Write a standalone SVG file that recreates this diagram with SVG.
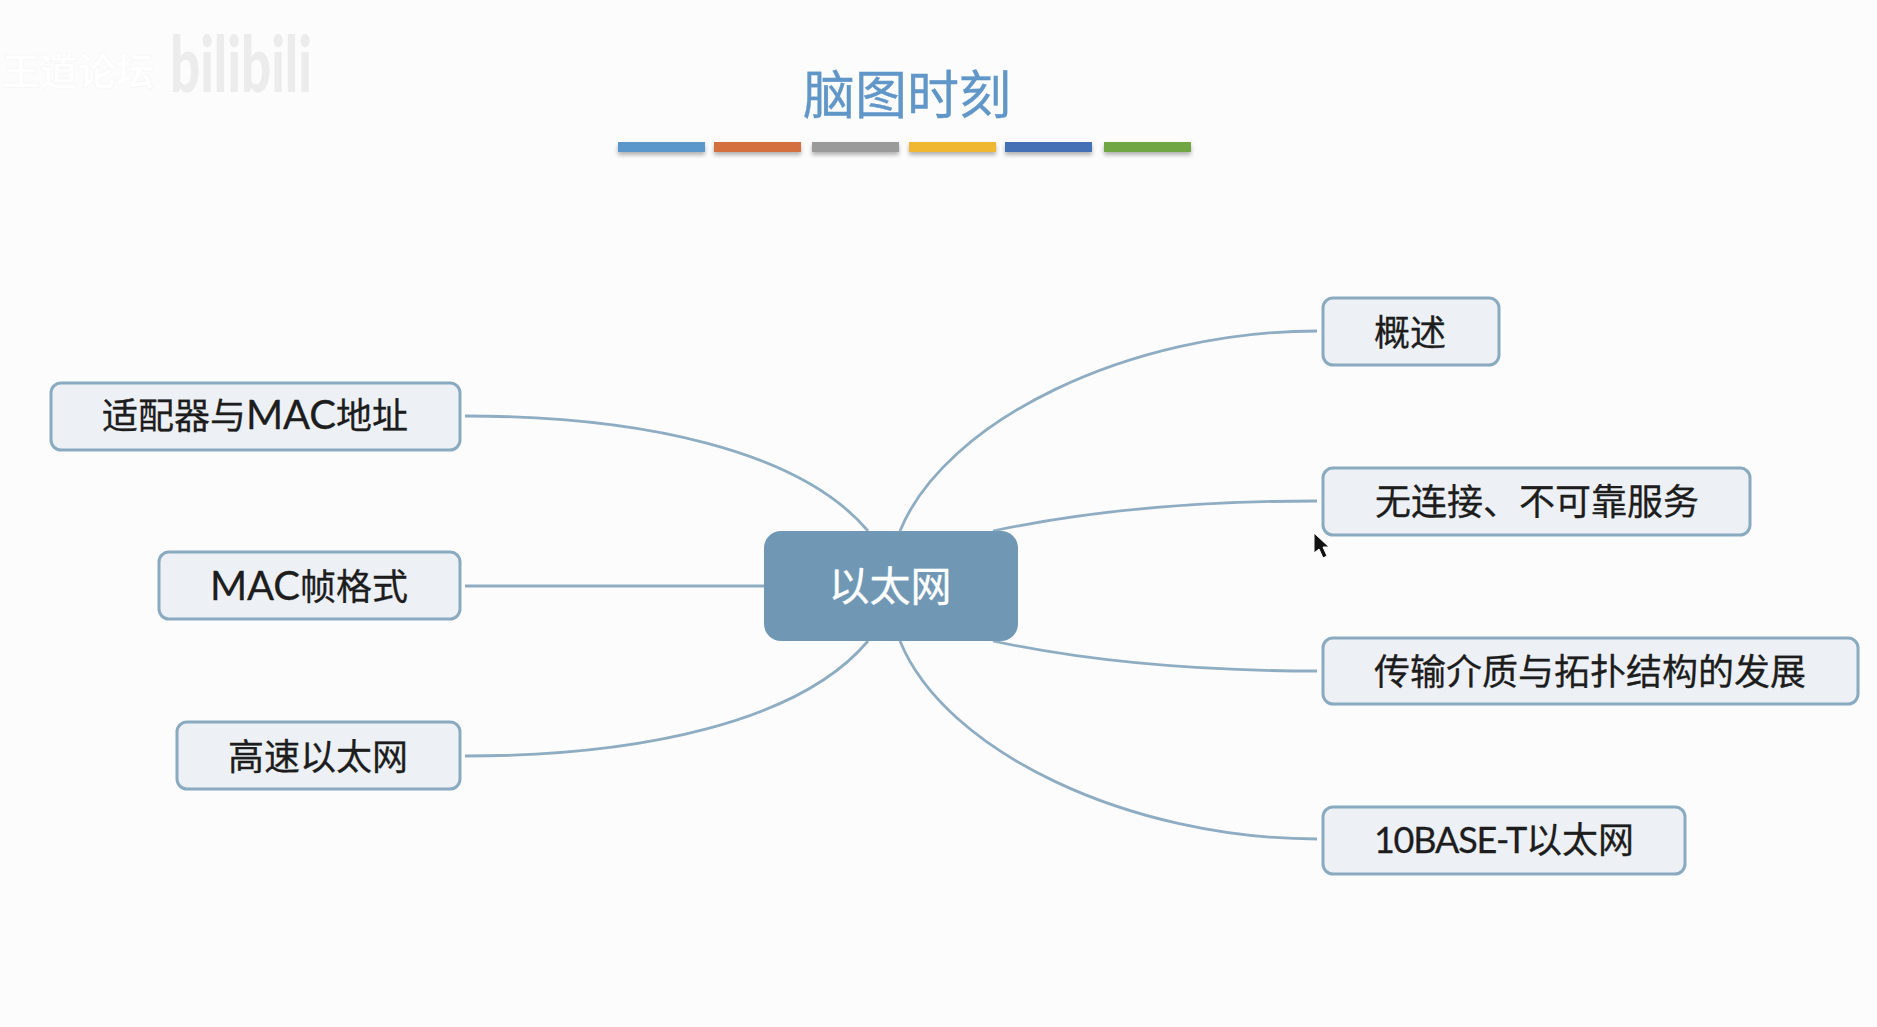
<svg xmlns="http://www.w3.org/2000/svg" width="1877" height="1027" viewBox="0 0 1877 1027">
  <style>
    text { font-family: "Lato", "Noto Sans CJK SC", sans-serif; }
    .topic rect { fill: #edf1f6; stroke: #8aaac0; stroke-width: 3; }
    .topic text { font-size: 36px; fill: #1d1d1d; text-anchor: middle; stroke: #1d1d1d; stroke-width: 0.3; }
    .latin { font-size: 40px; }
    .links path { fill: none; stroke: #8fadc2; stroke-width: 2.8; }
    .bar { filter: url(#barShadow); }
  </style>
  <defs>
    <filter id="barShadow" x="-10%" y="-50%" width="120%" height="220%">
      <feDropShadow dx="0" dy="3" stdDeviation="2" flood-color="#000" flood-opacity="0.3"/>
    </filter>
  </defs>

  <rect width="1877" height="1027" fill="#fcfcfc"/>

  <!-- channel watermark -->
  <g id="watermark">
    <text x="2" y="85" font-size="38" font-weight="700" fill="#ffffff" stroke="#f4f4f4" stroke-width="0.4">王道论坛</text>
    <text x="170" y="92" font-size="78" font-weight="900" fill="#ececec" textLength="142" lengthAdjust="spacingAndGlyphs">bilibili</text>
  </g>

  <!-- heading and colour strip -->
  <g id="title">
    <text x="907" y="114" font-size="52" fill="#6096c8" stroke="#6096c8" stroke-width="0.4" text-anchor="middle">脑图时刻</text>
    <rect class="bar" x="618" y="142" width="87" height="10" fill="#5b97cc"/>
    <rect class="bar" x="714" y="142" width="87" height="10" fill="#d4703f"/>
    <rect class="bar" x="812" y="142" width="87" height="10" fill="#9a9a9a"/>
    <rect class="bar" x="909" y="142" width="87" height="10" fill="#efb730"/>
    <rect class="bar" x="1005" y="142" width="87" height="10" fill="#4470b5"/>
    <rect class="bar" x="1104" y="142" width="87" height="10" fill="#71a644"/>
  </g>

  <g id="connectors" class="links">
    <path d="M900 531C945 420 1130 331 1317 331"/>
    <path d="M993 531C1100 508 1220 501 1317 501"/>
    <path d="M993 641C1100 664 1220 671 1317 671"/>
    <path d="M900 641C945 752 1130 839 1317 839"/>
    <path d="M868 531C800 450 640 416 465 416"/>
    <path d="M465 586H764"/>
    <path d="M868 641C800 722 640 756 465 756"/>
  </g>

  <g id="hub">
    <rect x="764" y="531" width="254" height="110" rx="17" fill="#7098b5"/>
    <text x="890" y="601" font-size="41" fill="#ffffff" stroke="#ffffff" stroke-width="0.3" text-anchor="middle">以太网</text>
  </g>

  <g id="topic-overview" class="topic">
    <rect x="1323" y="298" width="176" height="67" rx="10"/>
    <text x="1410" y="346">概述</text>
  </g>
  <g id="topic-service" class="topic">
    <rect x="1323" y="468" width="427" height="67" rx="10"/>
    <text x="1537" y="515">无连接、不可靠服务</text>
  </g>
  <g id="topic-media" class="topic">
    <rect x="1323" y="638" width="535" height="66" rx="10"/>
    <text x="1590" y="685">传输介质与拓扑结构的发展</text>
  </g>
  <g id="topic-10baset" class="topic">
    <rect x="1323" y="807" width="362" height="67" rx="10"/>
    <text x="1504" y="853"><tspan letter-spacing="-1.2">10BASE-T</tspan>以太网</text>
  </g>
  <g id="topic-adapter" class="topic">
    <rect x="51" y="383" width="409" height="67" rx="10"/>
    <text x="255" y="429">适配器与<tspan class="latin">MAC</tspan>地址</text>
  </g>
  <g id="topic-frame" class="topic">
    <rect x="159" y="552" width="301" height="67" rx="10"/>
    <text x="309" y="600"><tspan class="latin">MAC</tspan>帧格式</text>
  </g>
  <g id="topic-fast" class="topic">
    <rect x="177" y="722" width="283" height="67" rx="10"/>
    <text x="318" y="770">高速以太网</text>
  </g>

  <!-- pointer -->
  <path id="pointer" d="M1314 533V553L1319 549L1323 558L1327 556L1323 547L1329 547Z" fill="#111" stroke="#fff" stroke-width="1"/>
</svg>
